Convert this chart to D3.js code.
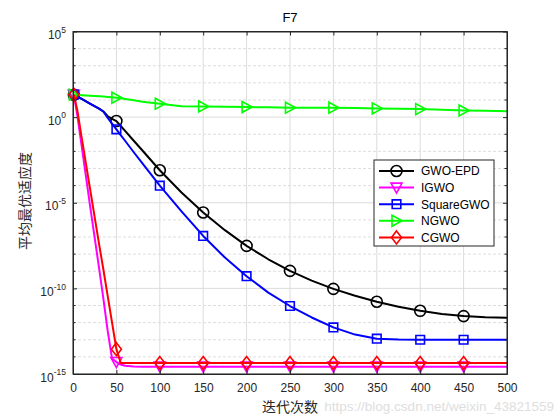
<!DOCTYPE html>
<html><head><meta charset="utf-8">
<script src="https://cdn.jsdelivr.net/npm/d3@7"></script>
<style>body{margin:0;background:#fff}svg{display:block}</style>
</head><body>
<svg id="c" width="560" height="420"></svg>
<script>
// ---- data ----
const iters = [1,5,10,20,30,35,40,45,50,55,60,70,80,100,125,150,175,200,225,250,275,300,325,350,375,400,425,450,475,500];
const seriesNames = ["GWO-EPD","IGWO","SquareGWO","NGWO","CGWO"];
const gwoEpd = [20.4,15.8,11.5,6.03,3.16,2.14,1.12,0.794,0.589,0.302,0.158,0.0417,0.0112,7.94e-4,3.98e-5,2.69e-6,2.51e-7,3.02e-8,5.01e-9,1.05e-9,2.82e-10,9.33e-11,3.72e-11,1.66e-11,8.51e-12,4.90e-12,3.16e-12,2.40e-12,2.04e-12,1.91e-12];
const igwo = [20.4,1.26,0.02,5.01e-6,1.58e-9,2.51e-11,3.16e-13,7.94e-15,5.01e-15,3.55e-15,3.02e-15,2.75e-15,2.69e-15,2.69e-15,2.69e-15,2.69e-15,2.69e-15,2.69e-15,2.69e-15,2.69e-15,2.69e-15,2.69e-15,2.69e-15,2.69e-15,2.69e-15,2.69e-15,2.69e-15,2.69e-15,2.69e-15,2.69e-15];
const squareGwo = [20.4,15.8,11.5,6.03,3.16,2.14,0.891,0.417,0.195,0.0891,0.0417,8.91e-3,2.0e-3,1.0e-4,3.16e-6,1.15e-7,6.31e-9,5.13e-10,5.62e-11,9.33e-12,2.0e-12,5.25e-13,2.0e-13,1.15e-13,1.02e-13,1.0e-13,1.0e-13,1.0e-13,1.0e-13,1.0e-13];
const ngwo = [20.4,20.0,19.1,17.8,16.6,15.8,15.1,14.5,13.5,12.6,11.5,9.55,7.94,6.03,4.37,4.17,4.07,3.89,3.72,3.55,3.55,3.55,3.39,3.24,3.09,2.95,2.69,2.45,2.34,2.24];
const cgwo = [20.4,2.45,0.0631,5.01e-5,3.98e-8,1.26e-9,3.55e-11,1.0e-12,2.82e-14,4.37e-15,4.37e-15,4.37e-15,4.37e-15,4.37e-15,4.37e-15,4.37e-15,4.37e-15,4.37e-15,4.37e-15,4.37e-15,4.37e-15,4.37e-15,4.37e-15,4.37e-15,4.37e-15,4.37e-15,4.37e-15,4.37e-15,4.37e-15,4.37e-15];
const markerIters = [1,50,100,150,200,250,300,350,400,450];
const xTicks = [0,50,100,150,200,250,300,350,400,450,500];
const yTicks = [1e-15,1e-10,1e-5,1e0,1e5];
const yTickExps = ["-15","-10","-5","0","5"];
const titleText = "F7";
const xLabel = "迭代次数";
const yLabel = "平均最优适应度";
const watermark = "https://blog.csdn.net/weixin_43821559";

// ---- styles ----
const colors = ["#000000","#ff00ff","#0000ff","#00ff00","#ff0000"];
const symbols = ["circle","triDown","square","triRight","diamond"];
const allValues = [gwoEpd, igwo, squareGwo, ngwo, cgwo];

const svg = d3.select("#c");
const L=73, R=507, T=31.5, B=374;
const x = d3.scaleLinear().domain([0,500]).range([L,R]);
const y = d3.scaleLog().domain([1e-15,1e5]).range([B,T]);
const axisColor = "#262626";
const font = "'Liberation Sans', Arial, Helvetica, sans-serif";

svg.append("rect").attr("x",0).attr("y",0).attr("width",560).attr("height",420).attr("fill","#fff");

// grid
const grid = svg.append("g");
xTicks.forEach(t=>{
  grid.append("line").attr("x1",x(t)).attr("x2",x(t)).attr("y1",T).attr("y2",B)
    .attr("stroke","#dcdcdc").attr("stroke-width",1);
});
for(let e=-15;e<=5;e++){
  const v = Math.pow(10,e);
  const major = (e%5===0);
  grid.append("line").attr("x1",L).attr("x2",R).attr("y1",y(v)).attr("y2",y(v))
    .attr("stroke", major?"#dcdcdc":"#dedede").attr("stroke-width",1)
    .attr("stroke-dasharray", major?null:"3,2");
}

// lines and markers
const line = d3.line().x((d)=>x(d[0])).y((d)=>y(d[1]));
function symPath(s){
  switch(s){
    case "circle": return "M5.5,0A5.5,5.5 0 1,1 -5.5,0A5.5,5.5 0 1,1 5.5,0Z";
    case "triDown": return "M-5.5,-4.5L5.5,-4.5L0,5.5Z";
    case "square": return "M-4.3,-4.3L4.3,-4.3L4.3,4.3L-4.3,4.3Z";
    case "triRight": return "M-4.5,-5.5L5.5,0L-4.5,5.5Z";
    case "diamond": return "M0,-6.5L5,0L0,6.5L-5,0Z";
  }
}
const plot = svg.append("g");
allValues.forEach((vals,i)=>{
  const pts = iters.map((it,k)=>[it, vals[k]]);
  plot.append("path").attr("d",line(pts)).attr("fill","none")
    .attr("stroke",colors[i]).attr("stroke-width",2).attr("stroke-linejoin","round");
  markerIters.forEach(m=>{
    const k = iters.indexOf(m);
    plot.append("path").attr("d",symPath(symbols[i]))
      .attr("transform",`translate(${x(m)},${y(vals[k])})`)
      .attr("fill","none").attr("stroke",colors[i]).attr("stroke-width",1.6);
  });
});

// axes
const gx = svg.append("g").attr("transform",`translate(0,${B})`)
  .call(d3.axisBottom(x).tickValues(xTicks).tickSizeInner(-4).tickSizeOuter(0).tickPadding(9));
const gxt = svg.append("g").attr("transform",`translate(0,${T})`)
  .call(d3.axisTop(x).tickValues(xTicks).tickSizeInner(-4).tickSizeOuter(0).tickFormat(""));
const gy = svg.append("g").attr("transform",`translate(${L},0)`)
  .call(d3.axisLeft(y).tickValues(yTicks).tickSizeInner(-4).tickSizeOuter(0).tickPadding(7));
const gyr = svg.append("g").attr("transform",`translate(${R},0)`)
  .call(d3.axisRight(y).tickValues(yTicks).tickSizeInner(-4).tickSizeOuter(0).tickFormat(""));
[gx,gxt,gy,gyr].forEach(g=>{
  g.select(".domain").attr("stroke",axisColor);
  g.selectAll(".tick line").attr("stroke",axisColor);
  g.selectAll("text").attr("fill",axisColor).attr("font-family",font).attr("font-size",12);
});
// minor y ticks
for(let e=-15;e<=5;e++){
  if(e%5===0) continue;
  const yy = y(Math.pow(10,e));
  svg.append("line").attr("x1",L).attr("x2",L+2.5).attr("y1",yy).attr("y2",yy).attr("stroke",axisColor);
  svg.append("line").attr("x1",R).attr("x2",R-2.5).attr("y1",yy).attr("y2",yy).attr("stroke",axisColor);
}
// superscript y labels
gy.selectAll(".tick text").each(function(d,i){
  const t = d3.select(this);
  const idx = yTicks.indexOf(d);
  t.text(null).attr("dy","0.6em");
  t.append("tspan").text("10");
  t.append("tspan").attr("dy","-6.5").attr("font-size",8.5).text(yTickExps[idx]);
});
// box
svg.append("rect").attr("x",L).attr("y",T).attr("width",R-L).attr("height",B-T)
  .attr("fill","none").attr("stroke",axisColor).attr("stroke-width",1);

// title & labels
svg.append("text").attr("x",290).attr("y",22).attr("text-anchor","middle")
  .attr("font-family",font).attr("font-size",13).attr("fill","#000").text(titleText);
svg.append("text").attr("x",290).attr("y",412).attr("text-anchor","middle")
  .attr("font-family","'Noto Sans CJK SC', sans-serif").attr("font-size",14).attr("fill",axisColor).text(xLabel);
svg.append("text").attr("transform","translate(30,201) rotate(-90)").attr("text-anchor","middle")
  .attr("font-family","'Noto Sans CJK SC', sans-serif").attr("font-size",14).attr("fill",axisColor).text(yLabel);

// legend
const lg = svg.append("g");
lg.append("rect").attr("x",374).attr("y",160).attr("width",120).attr("height",86)
  .attr("fill","#fff").attr("stroke",axisColor).attr("stroke-width",1);
seriesNames.forEach((n,i)=>{
  const yy = 171 + i*16.6;
  lg.append("line").attr("x1",379).attr("x2",414).attr("y1",yy).attr("y2",yy)
    .attr("stroke",colors[i]).attr("stroke-width",2);
  lg.append("path").attr("d",symPath(symbols[i])).attr("transform",`translate(396.5,${yy})`)
    .attr("fill","none").attr("stroke",colors[i]).attr("stroke-width",1.6);
  lg.append("text").attr("x",421).attr("y",yy).attr("dy","0.36em")
    .attr("font-family",font).attr("font-size",12).attr("fill","#000").text(n);
});

// watermark (faint, as in the reference)
svg.append("text").attr("x",554).attr("y",411).attr("text-anchor","end")
  .attr("font-family",font).attr("font-size",13.5).attr("fill","#d9d9d9").attr("opacity",0.85).text(watermark);
</script>
</body></html>
